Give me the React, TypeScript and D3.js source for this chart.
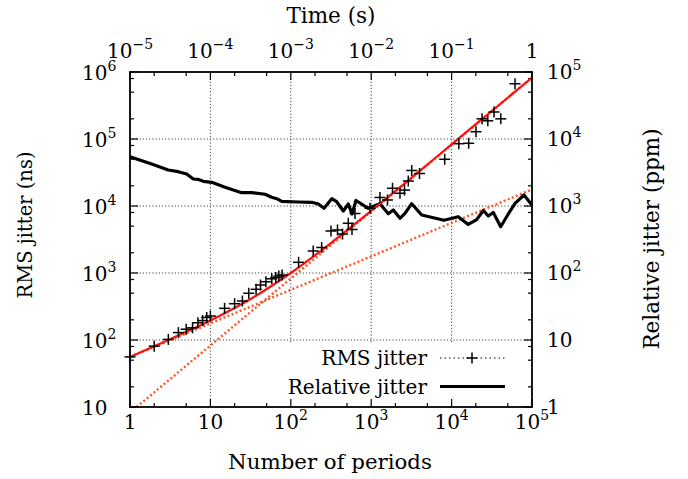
import React, { useEffect, useRef } from 'react';
import * as d3 from 'd3';

// RMS jitter measurements (number of periods -> ns)
const rmsN = [1, 2, 3, 4, 5, 6, 7, 8, 9, 10, 15, 20, 25, 30, 37, 42, 49, 58, 65, 71, 78, 125, 190, 242,
  316, 381, 440, 519, 577, 629, 966, 1286, 1594, 1841, 2281, 2595, 2893, 3191, 3990,
  8205, 12300, 16300, 20100, 23900, 28200, 33700, 40900, 61500];
const rmsNs = [56, 81, 102, 129, 145, 152, 181, 195, 217, 228, 297, 348, 382, 498, 571, 662, 741, 819, 857, 902, 934, 1444, 2130, 2403,
  4236, 4385, 3820, 5520, 4460, 7730, 9245, 13400, 12300, 18400, 15500, 17300, 23600, 33900, 30550,
  49800, 85100, 86300, 128500, 200000, 187000, 253000, 200000, 668000];

// Relative jitter (number of periods -> ppm)
const relN = [1, 1.86, 2.99, 3.98, 5.07, 6.13, 6.95, 8.16, 10.4, 15.2, 24.5, 32.6, 47.8, 57.8, 66.8, 77.1, 124, 182, 220, 259,
  323, 372, 450, 519, 577, 647, 920, 1286, 1632, 1884, 2281, 2632, 3189, 4249, 8035, 12100, 16100, 20500, 24800, 28600,
  33000, 40800, 50700, 61500, 79500, 100000];
const relPpm = [5445, 4236, 3446, 3251, 3005, 2529, 2504, 2337, 2258, 1901, 1580, 1580, 1496, 1349, 1285, 1175, 1148, 1135, 1071, 924,
  1285, 1159, 842, 1071, 760, 1208, 924, 1082, 767, 871, 655, 778, 1082, 734, 612, 692, 530, 625, 857, 709,
  800, 491, 760, 1097, 1459, 1035];

// fit curve (red) and its two asymptotes (orange dotted)
const fitN = [1, 3.16, 10, 31.6, 100, 316, 1000, 3162, 10000, 31623, 100000];
const fitNs = [56, 103, 195, 409, 1000, 2800, 8460, 26300, 82900, 262000, 827000];
const sqrtN = [1, 100000];
const sqrtNs = [56, 17700];
const linN = [1.21, 100000];
const linNs = [10, 827000];

// tick labels: [value, base, exponent]
const bottomTicks: [number, string, string][] = [[1, '1', ''], [10, '10', ''], [100, '10', '2'], [1e3, '10', '3'], [1e4, '10', '4'], [1e5, '10', '5']];
const topTicks: [number, string, string][] = [[1e-5, '10', '−5'], [1e-4, '10', '−4'], [1e-3, '10', '−3'], [1e-2, '10', '−2'], [1e-1, '10', '−1'], [1, '1', '']];
const leftTicks: [number, string, string][] = [[10, '10', ''], [100, '10', '2'], [1e3, '10', '3'], [1e4, '10', '4'], [1e5, '10', '5'], [1e6, '10', '6']];
const rightTicks: [number, string, string][] = [[1, '1', ''], [10, '10', ''], [100, '10', '2'], [1e3, '10', '3'], [1e4, '10', '4'], [1e5, '10', '5']];

const FONT = 'DejaVu Serif';

const App = () => {
  const svgRef = useRef<SVGSVGElement | null>(null);

  useEffect(() => {
    const width = 688;
    const height = 479;
    const L = 130, R = 532, T = 72, B = 407;

    const svg = d3.select(svgRef.current);
    svg.selectAll('*').remove();
    svg.attr('width', width).attr('height', height);

    const x = d3.scaleLog().domain([1, 1e5]).range([L, R]);
    const xTop = d3.scaleLog().domain([1e-5, 1]).range([L, R]);
    const y = d3.scaleLog().domain([10, 1e6]).range([B, T]);
    const y2 = d3.scaleLog().domain([1, 1e5]).range([B, T]);

    svg.append('defs').append('clipPath').attr('id', 'plotclip')
      .append('rect').attr('x', L).attr('y', T).attr('width', R - L).attr('height', B - T);

    // grid
    const grid = svg.append('g').attr('stroke', '#444').attr('stroke-width', 1).attr('stroke-dasharray', '1.2,2');
    [10, 100, 1e3, 1e4].forEach(v => {
      grid.append('line').attr('x1', x(v)).attr('x2', x(v)).attr('y1', T).attr('y2', B);
    });
    [100, 1e3, 1e4, 1e5].forEach(v => {
      grid.append('line').attr('x1', L).attr('x2', R).attr('y1', y(v)).attr('y2', y(v));
    });

    // opaque key box hides grid
    svg.append('rect').attr('x', 286).attr('y', 343).attr('width', R - 286 - 1).attr('height', B - 343 - 1).attr('fill', 'white');

    // ticks
    const ticks = svg.append('g').attr('stroke', 'black').attr('stroke-width', 1.2);
    for (let d = 0; d <= 5; d++) {
      const base = Math.pow(10, d);
      [1, 2, 5].forEach(m => {
        const v = base * m;
        if (v > 1e5) return;
        const len = m === 1 ? 8 : 4;
        ticks.append('line').attr('x1', x(v)).attr('x2', x(v)).attr('y1', B).attr('y2', B - len);
        ticks.append('line').attr('x1', x(v)).attr('x2', x(v)).attr('y1', T).attr('y2', T + len);
      });
    }
    for (let d = 1; d <= 6; d++) {
      const base = Math.pow(10, d);
      [1, 2, 5, 8].forEach(m => {
        const v = base * m;
        if (v > 1e6) return;
        const len = m === 1 ? 8 : 4;
        ticks.append('line').attr('x1', L).attr('x2', L + len).attr('y1', y(v)).attr('y2', y(v));
        ticks.append('line').attr('x1', R).attr('x2', R - len).attr('y1', y(v)).attr('y2', y(v));
      });
    }

    const plot = svg.append('g').attr('clip-path', 'url(#plotclip)');

    const line = (xs: number[], ys: number[], ys2 = y) =>
      d3.line<number>().x(i => x(xs[i])).y(i => ys2(ys[i]))(d3.range(xs.length));

    // asymptotes
    plot.append('path').attr('d', line(sqrtN, sqrtNs)).attr('fill', 'none')
      .attr('stroke', '#ff5522').attr('stroke-width', 2.4).attr('stroke-dasharray', '2,2.4');
    plot.append('path').attr('d', line(linN, linNs)).attr('fill', 'none')
      .attr('stroke', '#ff5522').attr('stroke-width', 2.4).attr('stroke-dasharray', '2,2.4');

    // relative jitter
    plot.append('path').attr('d', line(relN, relPpm, y2)).attr('fill', 'none')
      .attr('stroke', 'black').attr('stroke-width', 3.2).attr('stroke-linejoin', 'round');

    // fit
    const fitLine = d3.line<number>().x(i => x(fitN[i])).y(i => y(fitNs[i])).curve(d3.curveMonotoneX);
    plot.append('path').attr('d', fitLine(d3.range(fitN.length))).attr('fill', 'none')
      .attr('stroke', '#ff1010').attr('stroke-width', 2.2);

    // frame
    svg.append('rect').attr('x', L).attr('y', T).attr('width', R - L).attr('height', B - T)
      .attr('fill', 'none').attr('stroke', 'black').attr('stroke-width', 1.8);

    // RMS points
    const pts = svg.append('g').attr('stroke', 'black').attr('stroke-width', 1.5);
    rmsN.forEach((n, i) => {
      const cx = x(n), cy = y(rmsNs[i]);
      pts.append('line').attr('x1', cx - 5.5).attr('x2', cx + 5.5).attr('y1', cy).attr('y2', cy);
      pts.append('line').attr('x1', cx).attr('x2', cx).attr('y1', cy - 5.5).attr('y2', cy + 5.5);
    });

    const label = (px: number, py: number, base: string, sup: string, anchor: string) => {
      const t = svg.append('text').attr('x', px).attr('y', py).attr('text-anchor', anchor)
        .attr('font-family', FONT).attr('font-size', 20).attr('fill', 'black');
      t.append('tspan').text(base);
      if (sup) t.append('tspan').attr('dy', -9).attr('font-size', 14).text(sup);
    };

    bottomTicks.forEach(([v, b, s]) => label(x(v), 429, b, s, 'middle'));
    topTicks.forEach(([v, b, s]) => label(xTop(v), 58, b, s, 'middle'));
    leftTicks.forEach(([v, b, s]) => label(82, y(v) + 8, b, s, 'start'));
    rightTicks.forEach(([v, b, s]) => label(547, y2(v) + 7, b, s, 'start'));

    const title = (px: number, py: number, txt: string, size: number, rot = 0) => {
      svg.append('text').attr('transform', `translate(${px},${py}) rotate(${rot})`)
        .attr('text-anchor', 'middle').attr('font-family', FONT).attr('font-size', size)
        .attr('fill', 'black').text(txt);
    };
    title(331, 23, 'Time (s)', 21.5);
    title(330, 469, 'Number of periods', 21.3);
    title(32, 225, 'RMS jitter (ns)', 19.5, -90);
    title(659, 239, 'Relative jitter (ppm)', 21.5, -90);

    // key
    const keyText = (py: number, txt: string) => {
      svg.append('text').attr('x', 427).attr('y', py).attr('text-anchor', 'end')
        .attr('font-family', FONT).attr('font-size', 20).attr('fill', 'black').text(txt);
    };
    keyText(365, 'RMS jitter');
    keyText(394, 'Relative jitter');
    svg.append('line').attr('x1', 440).attr('x2', 505).attr('y1', 358).attr('y2', 358)
      .attr('stroke', 'black').attr('stroke-width', 1).attr('stroke-dasharray', '1.5,3');
    svg.append('line').attr('x1', 472 - 5.5).attr('x2', 472 + 5.5).attr('y1', 358).attr('y2', 358)
      .attr('stroke', 'black').attr('stroke-width', 1.5);
    svg.append('line').attr('x1', 472).attr('x2', 472).attr('y1', 358 - 5.5).attr('y2', 358 + 5.5)
      .attr('stroke', 'black').attr('stroke-width', 1.5);
    svg.append('line').attr('x1', 440).attr('x2', 505).attr('y1', 386.5).attr('y2', 386.5)
      .attr('stroke', 'black').attr('stroke-width', 3.2);
  }, []);

  return (
    <div style={{ position: 'absolute', left: 0, top: 0, width: 688, height: 479, background: 'white' }}>
      <svg ref={svgRef} style={{ display: 'block' }}></svg>
    </div>
  );
};

export default App;
